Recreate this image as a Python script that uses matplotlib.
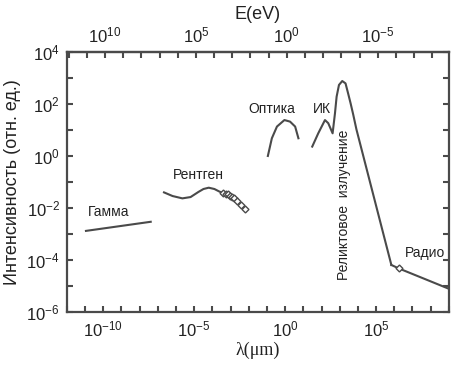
import matplotlib
matplotlib.use("Agg")
import matplotlib.pyplot as plt
import numpy as np

plt.rcParams['font.family'] = ['Liberation Sans', 'DejaVu Sans']
plt.rcParams['mathtext.fontset'] = 'custom'
plt.rcParams['mathtext.rm'] = 'Liberation Sans'
plt.rcParams['mathtext.it'] = 'Liberation Sans:italic'
plt.rcParams['mathtext.default'] = 'regular'

col = '#4a4a4a'

# log10(lambda, um) / log10(intensity)
gamma_x = [-10.95, -7.39]
gamma_y = [-2.88, -2.53]

xray_x = [-6.66, -6.19, -5.65, -5.20, -4.76, -4.49, -4.20, -3.89, -3.61, -3.39]
xray_y = [-1.40, -1.54, -1.63, -1.58, -1.38, -1.27, -1.22, -1.27, -1.37, -1.43]
xray_pts_x = [-3.39, -3.23, -3.12, -3.01, -2.90, -2.79, -2.63, -2.44, -2.22]
xray_pts_y = [-1.43, -1.46, -1.48, -1.52, -1.58, -1.63, -1.75, -1.88, -2.04]

opt_x = [-0.95, -0.73, -0.45, -0.04, 0.27, 0.55, 0.73]
opt_y = [0.00, 0.68, 1.13, 1.38, 1.32, 1.13, 0.68]

ir_cmb_x = [1.49, 1.82, 2.19, 2.37, 2.61, 2.74, 2.83, 2.96, 3.14, 3.32, 3.46, 3.60, 3.74, 3.92, 5.84]
ir_cmb_y = [0.36, 0.87, 1.38, 1.26, 0.87, 1.64, 2.28, 2.73, 2.88, 2.79, 2.41, 2.02, 1.60, 1.02, -4.19]

radio_x = [5.84, 6.24, 8.95]
radio_y = [-4.19, -4.32, -5.09]
radio_pt_x = [6.24]
radio_pt_y = [-4.32]

fig = plt.figure(figsize=(4.58, 3.68), dpi=100)
ax = fig.add_axes([0.146, 0.152, 0.834, 0.707])

def p(xs, ys):
    return 10.0 ** np.array(xs), 10.0 ** np.array(ys)

kw = dict(color=col, lw=1.5)
ax.plot(*p(gamma_x, gamma_y), **kw)
ax.plot(*p(xray_x, xray_y), **kw)
ax.plot(*p(xray_pts_x, xray_pts_y), marker='D', ms=3.5, mfc='white',
        mec=col, mew=1.0, **kw)
ax.plot(*p(opt_x, opt_y), **kw)
ax.plot(*p(ir_cmb_x, ir_cmb_y), **kw)
ax.plot(*p(radio_x, radio_y), **kw)
ax.plot(*p(radio_pt_x, radio_pt_y), ls='none', marker='D', ms=3.5,
        mfc='white', mec=col, mew=1.0)

ax.set_xscale('log')
ax.set_yscale('log')
ax.set_xlim(1e-12, 1e9)
ax.set_ylim(1e-6, 1e4)

xt = 10.0 ** np.arange(-12, 10)
ax.set_xticks(xt)
ax.set_xticklabels([f'$10^{{{int(e)}}}$' if e % 5 == 0 else '' for e in np.arange(-12, 10)])
ax.xaxis.set_minor_locator(matplotlib.ticker.NullLocator())
yt = 10.0 ** np.arange(-6, 5)
ax.set_yticks(yt)
ax.set_yticklabels([f'$10^{{{int(e)}}}$' if e % 2 == 0 else '' for e in np.arange(-6, 5)])
ax.yaxis.set_minor_locator(matplotlib.ticker.NullLocator())

ax.tick_params(direction='in', length=4, width=1.5, color=col, labelsize=12,
               labelcolor='#222222', right=True, pad=5)
for s in ax.spines.values():
    s.set_color(col)
    s.set_linewidth(1.6)

sec = ax.secondary_xaxis('top', functions=(lambda x: 1.24 / x, lambda e: 1.24 / e))
et = 10.0 ** np.arange(-8, 13)
sec.set_xticks(et)
sec.set_xticklabels([f'$10^{{{int(e)}}}$' if e % 5 == 0 else '' for e in np.arange(-8, 13)])
sec.xaxis.set_minor_locator(matplotlib.ticker.NullLocator())
sec.tick_params(direction='in', length=4, width=1.5, color=col, labelsize=12,
                labelcolor='#222222', pad=5)
sec.spines['top'].set_color(col)
sec.spines['top'].set_linewidth(1.6)
sec.set_xlabel('E(eV)', fontsize=13, color='#222222', labelpad=4)

ax.set_xlabel('λ(μm)', fontsize=13, family='Liberation Serif', color='#222222', labelpad=2)
ax.set_ylabel('Интенсивность (отн. ед.)', fontsize=13, color='#222222', labelpad=4)

tk = dict(fontsize=10, color='#222222')
ax.text(10 ** -10.84, 10 ** -2.15, 'Гамма', ha='left', va='center', **tk)
ax.text(10 ** -6.15, 10 ** -0.73, 'Рентген', ha='left', va='center', **tk)
ax.text(10 ** -2.01, 10 ** 1.80, 'Оптика', ha='left', va='center', **tk)
ax.text(10 ** 1.52, 10 ** 1.80, 'ИК', ha='left', va='center', **tk)
ax.text(10 ** 3.23, 10 ** -4.77, 'Реликтовое  излучение', rotation=90,
        ha='center', va='bottom', **tk)
ax.text(10 ** 6.57, 10 ** -3.72, 'Радио', ha='left', va='center', **tk)

fig.savefig('out.png', dpi=100)
